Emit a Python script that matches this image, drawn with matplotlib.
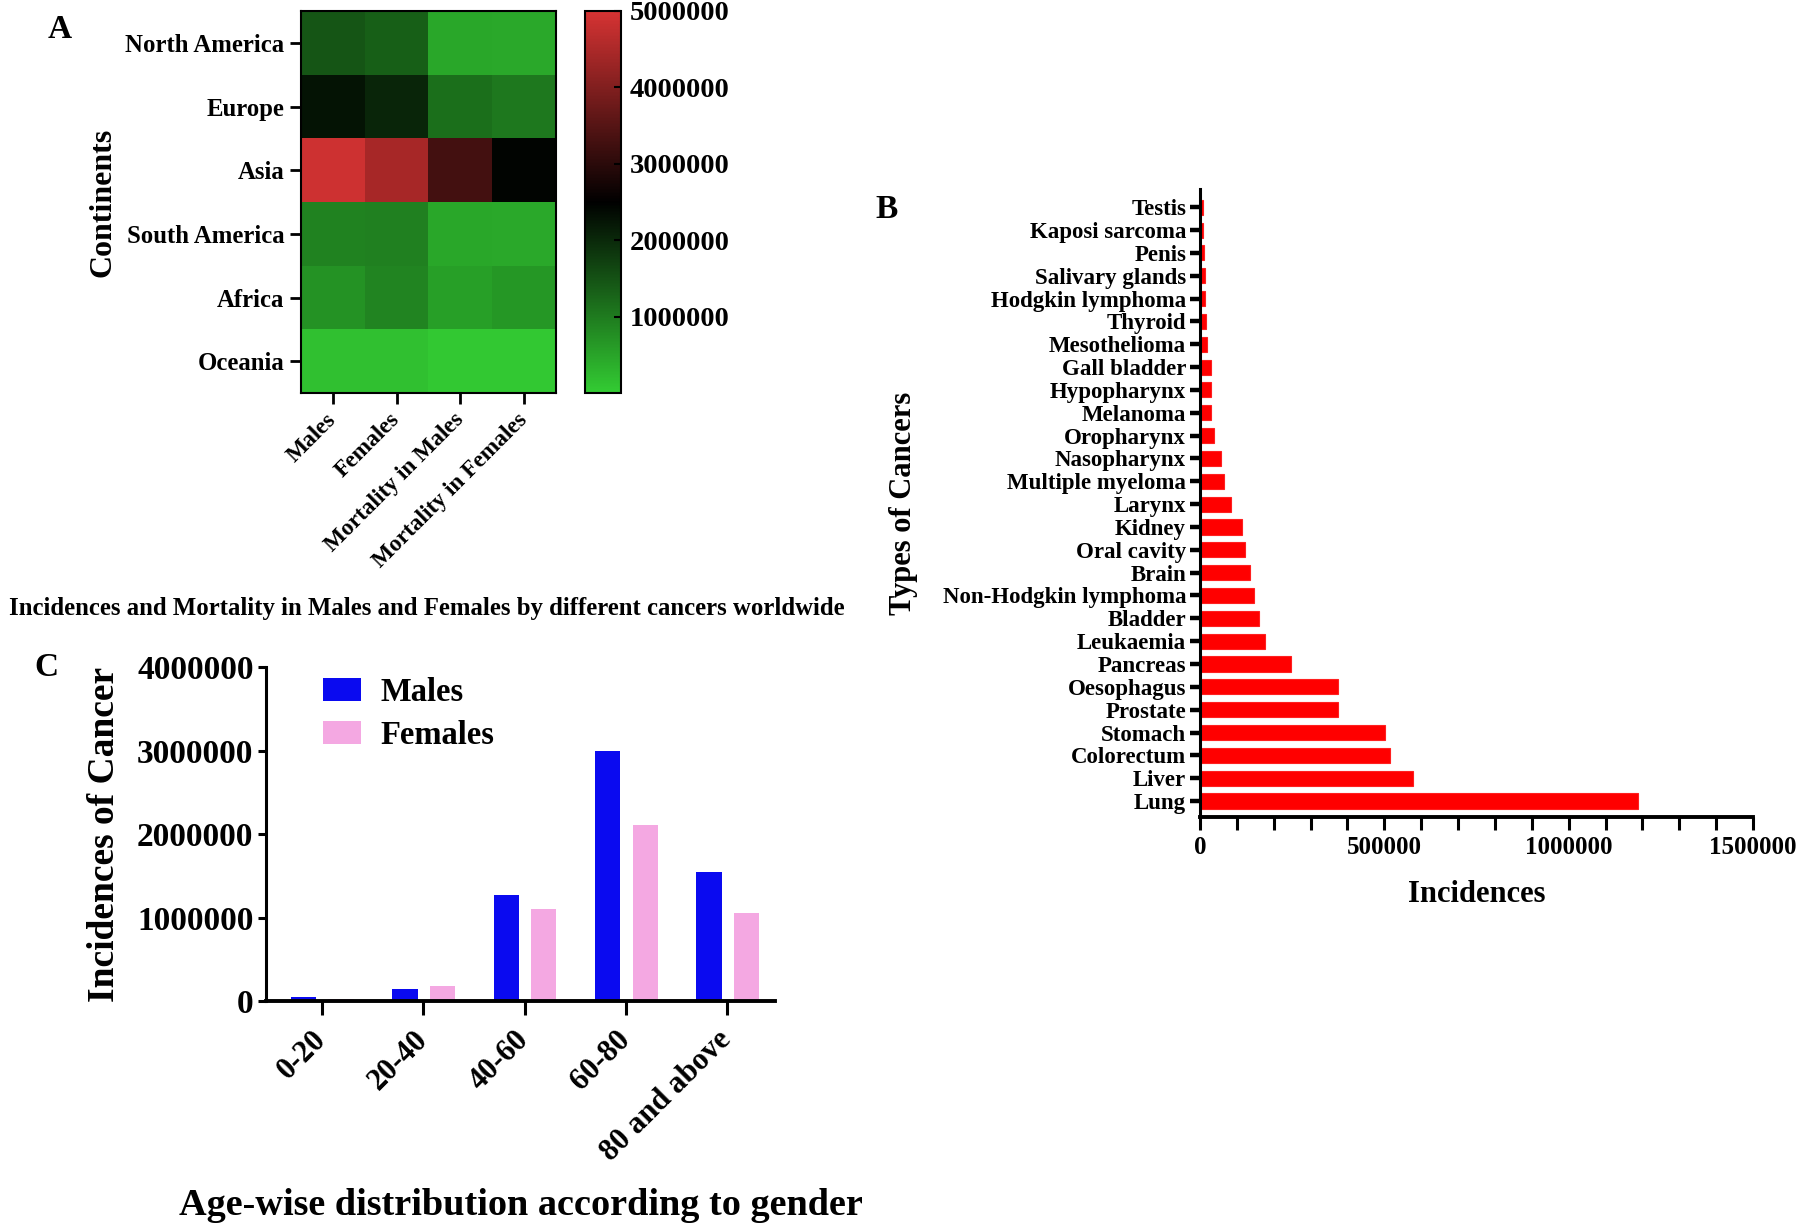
import matplotlib
matplotlib.use('Agg')
import matplotlib.pyplot as plt
import numpy as np
from matplotlib.colors import LinearSegmentedColormap
from matplotlib.ticker import FuncFormatter, MultipleLocator

plt.rcParams['font.family'] = ['Liberation Serif', 'DejaVu Serif']
plt.rcParams['font.weight'] = 'bold'
plt.rcParams['axes.labelweight'] = 'bold'

# ---------------- Panel A data ----------------
continents = ['North America', 'Europe', 'Asia', 'South America', 'Africa', 'Oceania']
groups = ['Males', 'Females', 'Mortality in Males', 'Mortality in Females']
males = [1450000, 2250000, 4900000, 900000, 720000, 150000]
females = [1330000, 2050000, 4450000, 920000, 880000, 140000]
mortality_males = [450000, 1150000, 3300000, 450000, 550000, 50000]
mortality_females = [430000, 1030000, 2450000, 440000, 650000, 40000]
cbar_ticks = [1000000, 2000000, 3000000, 4000000, 5000000]

# ---------------- Panel B data ----------------
cancers = ['Lung', 'Liver', 'Colorectum', 'Stomach', 'Prostate', 'Oesophagus',
           'Pancreas', 'Leukaemia', 'Bladder', 'Non-Hodgkin lymphoma', 'Brain',
           'Oral cavity', 'Kidney', 'Larynx', 'Multiple myeloma', 'Nasopharynx',
           'Oropharynx', 'Melanoma', 'Hypopharynx', 'Gall bladder', 'Mesothelioma',
           'Thyroid', 'Hodgkin lymphoma', 'Salivary glands', 'Penis',
           'Kaposi sarcoma', 'Testis']
incidences = [1188000, 578000, 516000, 503000, 375000, 374000,
              247000, 176000, 159000, 147000, 136000,
              123000, 114000, 84000, 64000, 56000,
              39000, 31000, 31000, 30000, 19000,
              16000, 14000, 12500, 12000,
              8000, 7000]
b_xticks = [0, 500000, 1000000, 1500000]

# ---------------- Panel C data ----------------
age_groups = ['0-20', '20-40', '40-60', '60-80', '80 and above']
age_males = [50000, 148000, 1270000, 2990000, 1540000]
age_females = [22000, 180000, 1100000, 2110000, 1055000]
c_yticks = [0, 1000000, 2000000, 3000000, 4000000]

W, H = 1800, 1227
fig = plt.figure(figsize=(18, 12.27), dpi=100)


def box(l, t, r, b):
    return [l / W, 1 - b / H, (r - l) / W, (b - t) / H]


intfmt = FuncFormatter(lambda v, p: f'{int(round(v))}')

# ================= Panel A =================
cmap = LinearSegmentedColormap.from_list(
    'gkr', [(0.0, '#33CC33'), (0.5, '#000000'), (1.0, '#D63333')])
axA = fig.add_axes(box(301, 11, 556, 393))
mat = np.array([males, females, mortality_males, mortality_females]).T
im = axA.imshow(mat, cmap=cmap, vmin=0, vmax=5000000, aspect='auto',
                interpolation='nearest')
axA.set_xticks(range(len(groups)))
axA.set_xticklabels(groups, rotation=45, ha='right', va='center',
                    rotation_mode='anchor', fontsize=16.8)
axA.set_yticks(range(len(continents)))
axA.set_yticklabels(continents, fontsize=17.8)
axA.tick_params(axis='both', length=8, width=2, direction='out', pad=4)
axA.tick_params(axis='x', pad=9)
for s in axA.spines.values():
    s.set_linewidth(1.5)
axA.set_ylabel('Continents', fontsize=23)
axA.yaxis.set_label_coords(-0.72, 0.5)

cax = fig.add_axes(box(585, 11, 621, 393))
cb = fig.colorbar(im, cax=cax, ticks=cbar_ticks)
cb.ax.yaxis.set_major_formatter(intfmt)
cb.ax.tick_params(labelsize=20.5, length=5, width=1.5, direction='in', pad=6)
cb.outline.set_linewidth(1.5)

fig.text(60 / W, 1 - 29 / H, 'A', fontsize=24, fontweight='bold',
         ha='center', va='center')
fig.text(9 / W, 1 - 608 / H,
         'Incidences and Mortality in Males and Females by different cancers worldwide',
         fontsize=17.8, fontweight='bold', ha='left', va='center')

# ================= Panel B =================
axB = fig.add_axes(box(1200, 189, 1753, 817))
yb = np.arange(len(cancers))
axB.barh(yb, incidences, height=0.66, color='#FF0000', edgecolor='#FF2020',
         linewidth=0.8)
axB.set_yticks(yb)
axB.set_yticklabels(cancers, fontsize=16.5)
axB.set_xlim(0, 1500000)
axB.set_ylim(-0.7, 26.8)
axB.set_xticks(b_xticks)
axB.xaxis.set_minor_locator(MultipleLocator(100000))
axB.xaxis.set_major_formatter(intfmt)
axB.spines['top'].set_visible(False)
axB.spines['right'].set_visible(False)
axB.spines['left'].set_linewidth(2.2)
axB.spines['bottom'].set_linewidth(2.8)
axB.tick_params(axis='y', length=7, width=3.2, pad=3)
axB.tick_params(axis='x', which='major', length=9, width=2.2, labelsize=18, pad=5)
axB.tick_params(axis='x', which='minor', length=9, width=2.2)
axB.set_xlabel('Incidences', fontsize=22)
axB.xaxis.set_label_coords(0.5, -0.10)
axB.set_ylabel('Types of Cancers', fontsize=22)
axB.yaxis.set_label_coords(-0.51, 0.5)
fig.text(887 / W, 1 - 210 / H, 'B', fontsize=24, fontweight='bold',
         ha='center', va='center')

# ================= Panel C =================
axC = fig.add_axes(box(266, 667, 775, 1001))
xc = np.arange(len(age_groups))
axC.bar(xc - 0.18, age_males, 0.25, color='#0A0AF0', label='Males')
axC.bar(xc + 0.19, age_females, 0.25, color='#F4A8E2', label='Females')
axC.set_xlim(-0.55, 4.47)
axC.set_ylim(0, 4000000)
axC.set_yticks(c_yticks)
axC.yaxis.set_major_formatter(intfmt)
axC.set_xticks(xc)
axC.set_xticklabels(age_groups, rotation=45, ha='right', va='center',
                    rotation_mode='anchor', fontsize=22)
axC.spines['top'].set_visible(False)
axC.spines['right'].set_visible(False)
axC.spines['left'].set_linewidth(2.2)
axC.spines['bottom'].set_linewidth(2.8)
axC.tick_params(axis='y', length=6, width=2.2, labelsize=24, pad=3)
axC.tick_params(axis='x', length=10, width=2.2, pad=15)
axC.set_ylabel('Incidences of Cancer', fontsize=27)
axC.yaxis.set_label_coords(-0.283, 0.5)
axC.set_xlabel('Age-wise distribution according to gender', fontsize=27.5)
axC.xaxis.set_label_coords(0.5, -0.56)
axC.legend(loc='upper left', bbox_to_anchor=(0.08, 1.02), frameon=False,
           fontsize=23.5, handlelength=1.15, handleheight=0.72, labelspacing=0.38,
           borderpad=0.0, handletextpad=0.6)
fig.text(46 / W, 1 - 668 / H, 'C', fontsize=24, fontweight='bold',
         ha='center', va='center')

fig.savefig('out.png', dpi=100, facecolor='white')
